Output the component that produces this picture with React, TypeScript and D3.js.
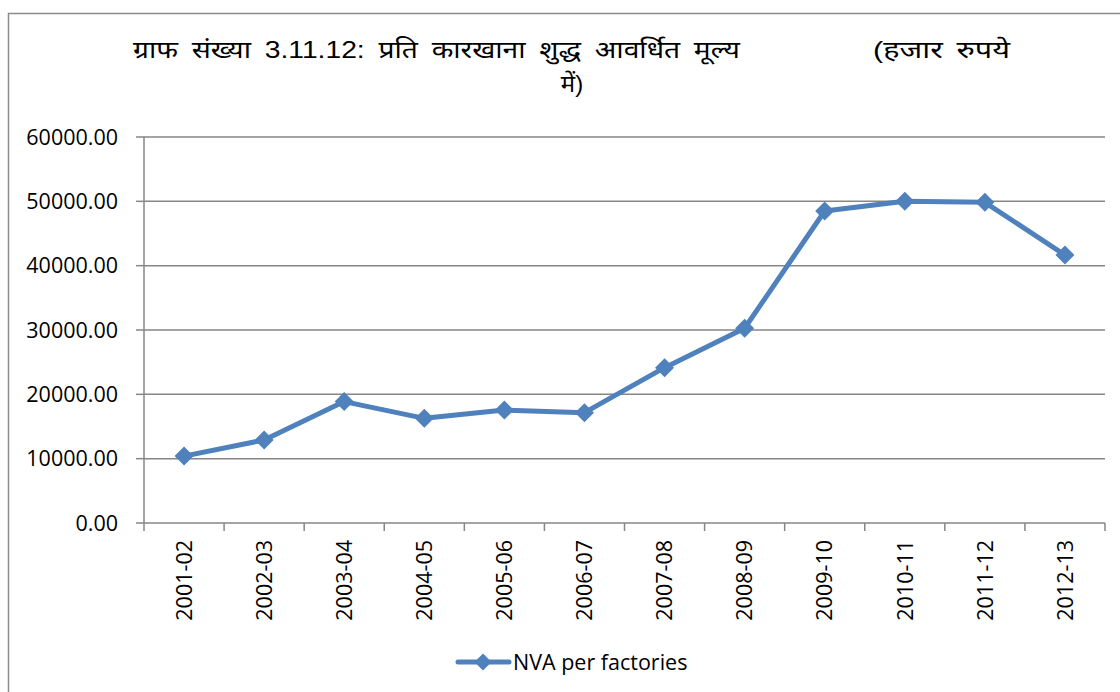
import React from "react";
import * as d3 from "d3";

const categories = ["2001-02","2002-03","2003-04","2004-05","2005-06","2006-07","2007-08","2008-09","2009-10","2010-11","2011-12","2012-13"];
const nvaValues = [10400, 12900, 18870, 16270, 17560, 17150, 24150, 30270, 48500, 50000, 49850, 41650];
const yTicks = [0, 10000, 20000, 30000, 40000, 50000, 60000];
const seriesName = "NVA per factories";
const titleMain = "ग्राफ संख्या 3.11.12: प्रति कारखाना शुद्ध आवर्धित मूल्य";
const titleUnit = "(हजार रुपये";
const titleLine2 = "में)";

const W = 1120, H = 692;
const left = 144, right = 1105, top = 137, bottom = 523;
const BLUE = "#4F81BD";
const GRID = "#868686";
const FONT = "'Open Sans', 'Liberation Sans', sans-serif";
const TFONT = "'Liberation Sans', 'Noto Sans Devanagari', sans-serif";

function diamond(cx: number, cy: number, r: number) {
  return `M${cx},${cy - r}L${cx + r},${cy}L${cx},${cy + r}L${cx - r},${cy}Z`;
}

export default function App() {
  const x = d3.scaleBand<string>().domain(categories).range([left, right]);
  const y = d3.scaleLinear().domain([0, 60000]).range([bottom, top]);
  const cx = (c: string) => (x(c) as number) + x.bandwidth() / 2;
  const line = d3.line<number>().x((_, i) => cx(categories[i])).y((v) => y(v));
  const boundaries = categories.map((c) => x(c) as number).concat([right]);

  return (
    <svg width={W} height={H} style={{ position: "absolute", left: 0, top: 0, background: "#fff" }} fontFamily={FONT}>
      <rect x={8.5} y={13.5} width={W + 20} height={H + 20} fill="#fff" stroke="#8c8c8c" strokeWidth={1.5} />
      <text x={133} y={58} fontSize={24} fill="#000" fontFamily={TFONT} fontWeight={400} wordSpacing={5} textLength={607} lengthAdjust="spacingAndGlyphs">{titleMain}</text>
      <text x={873} y={58} fontSize={24} fill="#000" fontFamily={TFONT} fontWeight={400} wordSpacing={4} textLength={137} lengthAdjust="spacingAndGlyphs">{titleUnit}</text>
      <text x={572} y={92} fontSize={24} fill="#000" textAnchor="middle" fontFamily={TFONT} fontWeight={400}>{titleLine2}</text>

      {yTicks.map((t) => (
        <g key={t}>
          {t > 0 && <line x1={left} x2={right} y1={y(t)} y2={y(t)} stroke={GRID} strokeWidth={1.5} />}
          <line x1={left - 8} x2={left} y1={y(t)} y2={y(t)} stroke={GRID} strokeWidth={1.5} />
          <text x={118} y={y(t)} dy="0.36em" textAnchor="end" fontSize={21.5} fill="#000">{t.toFixed(2)}</text>
        </g>
      ))}
      <line x1={left} x2={left} y1={top} y2={bottom} stroke={GRID} strokeWidth={1.5} />
      <line x1={left} x2={right} y1={bottom} y2={bottom} stroke={GRID} strokeWidth={1.5} />
      {boundaries.map((b, i) => (
        <line key={i} x1={b} x2={b} y1={bottom} y2={bottom + 8} stroke={GRID} strokeWidth={1.5} />
      ))}
      {categories.map((c) => (
        <text key={c} transform={`translate(${cx(c)},540) rotate(-90)`} dy="0.36em" textAnchor="end" fontSize={21.5} fill="#000">{c}</text>
      ))}

      <path d={line(nvaValues) || ""} fill="none" stroke={BLUE} strokeWidth={5} strokeLinejoin="round" />
      {nvaValues.map((v, i) => (
        <path key={i} d={diamond(cx(categories[i]), y(v), 9.5)} fill={BLUE} />
      ))}

      <line x1={458} x2={509} y1={662} y2={662} stroke={BLUE} strokeWidth={5} strokeLinecap="round" />
      <path d={diamond(483, 662, 8.5)} fill={BLUE} />
      <text x={513} y={670} fontSize={21.5} fill="#000">{seriesName}</text>
    </svg>
  );
}
